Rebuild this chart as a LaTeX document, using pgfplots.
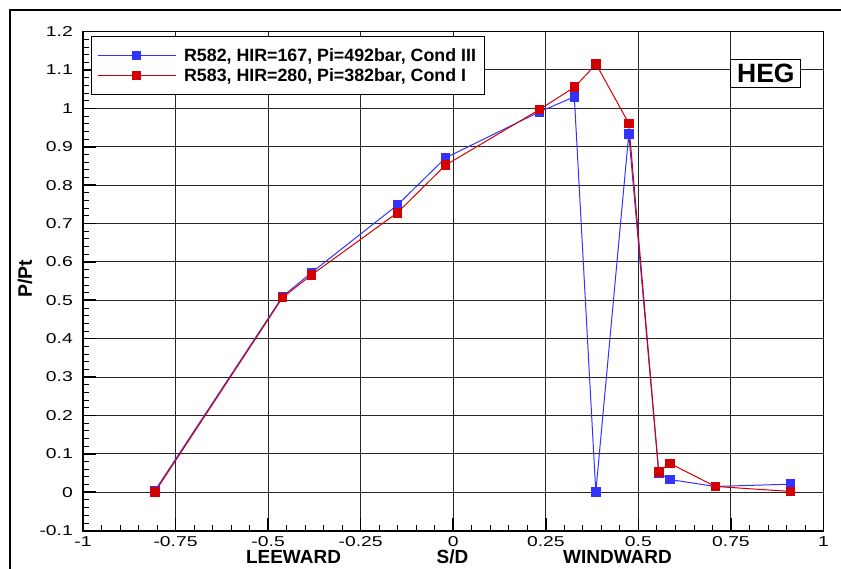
\documentclass[border=0pt]{standalone}
\usepackage{graphicx}
\usepackage{pgfplots}
\pgfplotsset{compat=1.18}
\usepackage{fontspec}
\setmainfont{Liberation Sans}
\definecolor{cblue}{RGB}{51,51,255}
\definecolor{cred}{RGB}{210,0,0}

\begin{document}
\begin{tikzpicture}[x=1pt,y=1pt]
\useasboundingbox (0,0) rectangle (841,568);
\draw[line width=2pt] (10,-5) -- (10,558) -- (846,558);
\begin{axis}[
  at={(83pt,37.4pt)}, anchor=south west,
  width=740.5pt, height=499pt, scale only axis,
  xmin=-1, xmax=1, ymin=-0.1, ymax=1.2,
  clip=false,
  xtick={-1,-0.75,-0.5,-0.25,0,0.25,0.5,0.75,1},
  ytick={-0.1,0,0.1,0.2,0.3,0.4,0.5,0.6,0.7,0.8,0.9,1,1.1,1.2},
  minor x tick num=4, minor y tick num=4,
  tick pos=left, tick align=inside,
  grid=major,
  major grid style={black!85, line width=1pt},
  axis line style={line width=1pt},
  major tick style={line width=1.6pt, black},
  minor tick style={line width=0.8pt, black},
  major tick length=13pt, minor tick length=6pt,
  /pgf/number format/assume math mode=true,
  xticklabel={\scalebox{1.35}[1]{\pgfmathprintnumber{\tick}}},
  yticklabel={\scalebox{1.35}[1]{\pgfmathprintnumber{\tick}}},
  tick label style={font=\fontsize{14.3}{16}\selectfont},
  xticklabel style={inner sep=0pt, anchor=north, yshift=-5.5pt},
  yticklabel style={inner sep=0pt, anchor=east, xshift=-10pt},
  legend style={at={(0.0104,0.9914)}, anchor=north west, draw=black, line width=0.8pt, fill=white,
    font=\bfseries\fontsize{17.8}{20}\selectfont,
    inner xsep=6pt, inner ysep=12.8pt, row sep=7.4pt,
    nodes={text height=12.7pt, text depth=0pt, inner ysep=0pt},
    /tikz/every odd column/.append style={column sep=6pt}},
  legend cell align=left,
  legend image code/.code={\draw[mark repeat=2,mark phase=2] plot coordinates {(0pt,0pt) (39pt,0pt) (78pt,0pt)};},
]
\addplot[cblue, line width=1pt, mark=square*, mark size=4.3pt, mark options={solid}] coordinates {
(-0.806,0.004) (-0.461,0.510) (-0.383,0.572) (-0.151,0.748) (-0.021,0.871) (0.233,0.991) (0.327,1.030) (0.385,0.0) (0.474,0.933) (0.555,0.050) (0.585,0.033) (0.708,0.015) (0.911,0.021)
};
\addlegendentry{R582, HIR=167, Pi=492bar, Cond III}
\addplot[cred, line width=1pt, mark=square*, mark size=4.3pt, mark options={solid}] coordinates {
(-0.806,0.0) (-0.461,0.507) (-0.383,0.566) (-0.151,0.728) (-0.021,0.852) (0.233,0.997) (0.327,1.055) (0.386,1.115) (0.474,0.961) (0.555,0.053) (0.585,0.075) (0.708,0.015) (0.911,0.002)
};
\addlegendentry{R583, HIR=280, Pi=382bar, Cond I}
\draw[line width=2pt, black] (rel axis cs:0,1) -- (rel axis cs:0,0) -- (rel axis cs:1,0);
\node[draw=black, line width=0.8pt, fill=white, font=\bfseries\fontsize{26.5}{30}\selectfont,
  inner xsep=0pt, minimum width=70pt, text height=19pt, text depth=0pt, inner ysep=4.6pt]
  at (rel axis cs:0.9222,0.9168) {HEG};
\end{axis}
\node[rotate=90, font=\bfseries\fontsize{19.5}{23}\selectfont] at (25,289) {P/Pt};
\node[anchor=base, font=\bfseries\fontsize{19}{24}\selectfont] at (293.5,4.2) {LEEWARD};
\node[anchor=base, font=\bfseries\fontsize{19}{24}\selectfont] at (452.5,4.2) {S/D};
\node[anchor=base, font=\bfseries\fontsize{19}{24}\selectfont] at (617.5,4.2) {WINDWARD};
\end{tikzpicture}
\end{document}
